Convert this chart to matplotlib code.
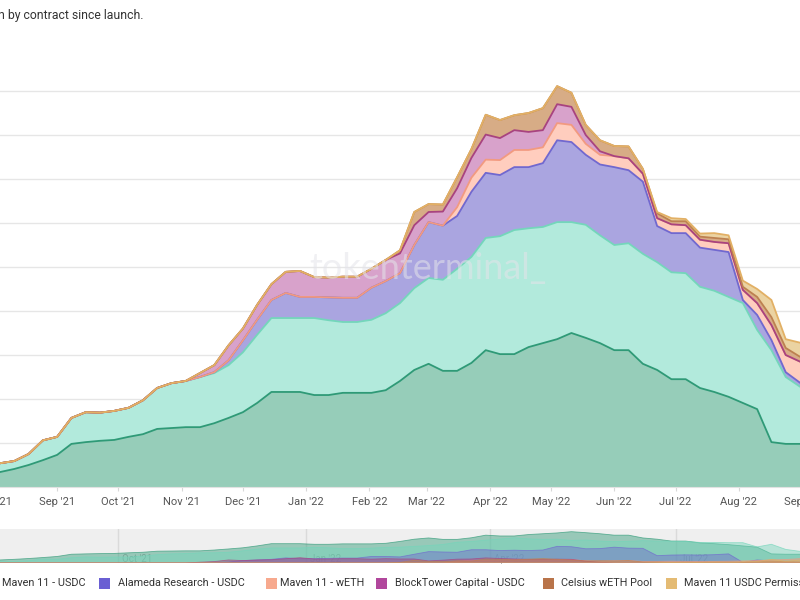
import matplotlib
matplotlib.use('Agg')
import matplotlib.pyplot as plt
import matplotlib.dates as mdates
import pandas as pd
import numpy as np
from matplotlib.patches import Rectangle

# ---------------- data (USD millions, weekly samples) ----------------
dates = pd.date_range('2021-08-04', periods=57, freq='7D')

orthogonal_usdc = [34, 41, 50, 61, 73, 98, 102, 105, 107, 114, 120, 132, 134, 136, 136, 145, 157, 170, 191, 216,
                   216, 216, 209, 209, 214, 214, 214, 220, 241, 266, 280, 264, 264, 282, 311, 302, 302, 318, 327, 336,
                   350, 339, 327, 311, 311, 280, 266, 245, 245, 225, 216, 205, 191, 177, 102, 98, 98]
maven11_usdc = [20, 18, 25, 45, 41, 59, 68, 64, 66, 66, 77, 93, 102, 105, 114, 114, 120, 136, 155, 168,
                168, 168, 175, 170, 161, 161, 166, 175, 177, 186, 195, 207, 232, 241, 255, 268, 282, 270, 264, 266,
                252, 257, 245, 239, 243, 250, 245, 243, 241, 230, 230, 227, 227, 180, 209, 152, 130]
alameda_usdc = [0, 0, 0, 0, 0, 0, 0, 0, 0, 0, 0, 0, 0, 0, 0, 2, 11, 27, 34, 41,
                57, 48, 48, 52, 55, 55, 73, 73, 68, 98, 127, 123, 120, 148, 148, 139, 143, 139, 145, 186,
                182, 159, 161, 177, 166, 164, 82, 89, 91, 89, 93, 102, 7, 34, 23, 11, 9]
maven11_weth = [0, 0, 0, 0, 0, 0, 0, 0, 0, 0, 0, 0, 0, 0, 0, 0, 0, 0, 0, 0,
                0, 0, 0, 0, 0, 0, 0, 0, 0, 0, 0, 0, 20, 32, 30, 34, 39, 39, 36, 39,
                39, 25, 22, 25, 27, 18, 18, 20, 18, 18, 18, 20, 23, 27, 34, 39, 48]
blocktower_usdc = [0, 0, 0, 0, 0, 0, 0, 0, 0, 0, 0, 0, 0, 0, 9, 16, 34, 27, 34, 36,
                   48, 59, 45, 45, 48, 48, 43, 48, 45, 45, 23, 32, 43, 45, 57, 50, 45, 41, 39, 43,
                   41, 20, 8, 0, 0, 0, 0, 0, 0, 0, 0, 0, 0, 0, 0, 0, 0]
celsius_weth = [0, 0, 0, 0, 0, 0, 0, 0, 0, 0, 0, 0, 0, 0, 0, 0, 0, 0, 0, 0,
                0, 0, 0, 0, 0, 0, 0, 0, 7, 30, 18, 16, 25, 20, 45, 41, 34, 43, 50, 41,
                32, 23, 25, 23, 27, 11, 11, 7, 9, 7, 9, 9, 7, 14, 18, 16, 11]
maven11_permissioned = [0, 0, 0, 0, 0, 0, 0, 0, 0, 0, 0, 0, 0, 0, 0, 0, 0, 0, 0, 0,
                        0, 0, 0, 0, 0, 0, 0, 0, 0, 0, 0, 0, 0, 0, 0, 0, 0, 0, 0, 0,
                        0, 0, 0, 0, 0, 0, 3, 7, 5, 7, 11, 9, 14, 18, 39, 20, 32]

series = [orthogonal_usdc, maven11_usdc, alameda_usdc, maven11_weth,
          blocktower_usdc, celsius_weth, maven11_permissioned]
fill_colors = ['#96cdb9', '#b2eadc', '#aaa5e0', '#ffcdbe', '#d8a2cb', '#d7ac86', '#ebd3a2']
line_colors = ['#2f9a77', '#74d6bb', '#7168cf', '#f29a80', '#a8437f', '#bd8150', '#e2b065']

legend_labels = ["Maven 11 - USDC", "Alameda Research - USDC", "Maven 11 - wETH",
                 "BlockTower Capital - USDC", "Celsius wETH Pool", "Maven 11 USDC Permissioned"]
legend_colors = ['#8fdcc6', '#6a5fd3', '#f7a98e', '#b1479c', '#b9744a', '#e4bb74']

title_text = "n by contract since launch."
watermark = "tokenterminal_"

# ---------------- figure ----------------
W, H = 800, 600
fig = plt.figure(figsize=(8, 6), dpi=100)
fig.patch.set_facecolor('white')

def fx(px):
    return px / W

def fy(py):
    return 1 - py / H

x0 = pd.Timestamp('2021-08-01')
x1 = pd.Timestamp('2022-09-01')
scale = 800 / (dates[-1] - dates[0]).days
left_px = -(dates[0] - x0).days * scale
width_px = (x1 - x0).days * scale

ymax = 950
px_per_unit = 0.44
main_bottom = 487
main_h = ymax * px_per_unit
ax = fig.add_axes([fx(left_px), fy(main_bottom), width_px / W, main_h / H])
ax.set_xlim(x0, x1)
ax.set_ylim(0, ymax)

arr = np.array(series, dtype=float)
cum = np.cumsum(arr, axis=0)
lower = np.vstack([np.zeros(arr.shape[1]), cum[:-1]])
for i in range(len(series)):
    ax.fill_between(dates, lower[i], cum[i], color=fill_colors[i], lw=0, zorder=2)
for i in range(len(series)):
    ax.plot(dates, cum[i], color=line_colors[i], lw=1.3, zorder=3)

ax.set_yticks(np.arange(100, 1000, 100))
ax.yaxis.grid(True, color='#e6e6e6', lw=1)
ax.set_axisbelow(True)
ax.tick_params(axis='y', left=False, labelleft=False)
for s in ['top', 'right', 'left']:
    ax.spines[s].set_visible(False)
ax.spines['bottom'].set_color('#e2e2e2')
ax.xaxis.set_major_locator(mdates.MonthLocator())
ax.xaxis.set_major_formatter(mdates.DateFormatter("%b '%y"))
ax.tick_params(axis='x', length=3, width=0.8, color='#d8d8d8', pad=4,
               labelsize=8, labelcolor='#555555')
for lab in ax.get_xticklabels():
    lab.set_fontfamily('Roboto')

fig.text(fx(428), fy(268), watermark, ha='center', va='center', fontsize=26,
         family='Lato', color='#e4e4ea', alpha=0.55, zorder=10)

# ---------------- navigator ----------------
nav_top, nav_bot = 529, 563
nav = fig.add_axes([fx(left_px), fy(nav_bot), width_px / W, (nav_bot - nav_top) / H])
nav.set_xlim(x0, x1)
nav.set_ylim(0, 380)
nav.set_facecolor('#efefef')
for q in ['2021-10-01', '2022-01-01', '2022-04-01', '2022-07-01']:
    qd = pd.Timestamp(q)
    nav.axvline(qd, color='#dadada', lw=1, zorder=0)
    nav.text(qd + pd.Timedelta(days=2), 40, qd.strftime("%b '%y"), fontsize=7,
             color='#b0b0b0', va='center', ha='left', family='Roboto', zorder=0)
for i in range(len(series)):
    nav.fill_between(dates, 0, series[i], color=line_colors[i], alpha=0.45, lw=0, zorder=1)
    nav.plot(dates, series[i], color=line_colors[i], lw=0.6, alpha=0.7, zorder=1)
nav.set_xticks([])
nav.set_yticks([])
for s in nav.spines.values():
    s.set_visible(False)

# ---------------- title ----------------
fig.text(fx(-2), fy(15), title_text, ha='left', va='center', fontsize=8.8,
         color='#333333', family='Roboto')

# ---------------- legend ----------------
marker_x = [-14, 99, 266, 376, 543, 666]
text_x = [2, 118, 280, 395, 561, 684]
ly = 583
for mx, tx, lab, col in zip(marker_x, text_x, legend_labels, legend_colors):
    fig.patches.append(Rectangle((fx(mx), fy(ly + 5.5)), 11 / W, 11 / H,
                                 transform=fig.transFigure, color=col, lw=0))
    fig.text(fx(tx), fy(ly), lab, ha='left', va='center', fontsize=7.8,
             color='#333333', family='Roboto')

fig.savefig('out.png', dpi=100)
